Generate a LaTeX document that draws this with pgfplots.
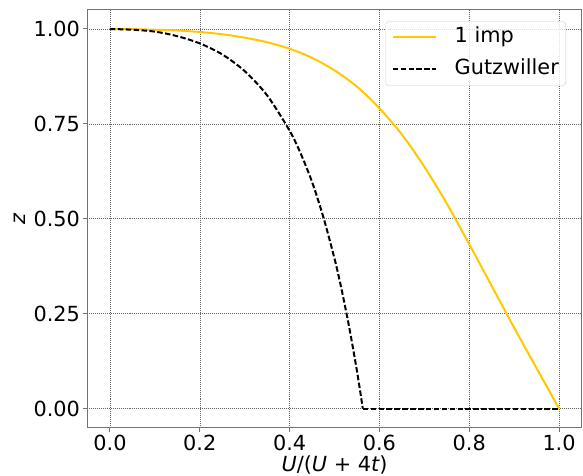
\documentclass[border=0pt]{standalone}
\usepackage{fontspec}
\setmainfont{DejaVu Sans}
\usepackage{pgfplots}
\pgfplotsset{compat=1.18}
\definecolor{imp}{RGB}{255,200,0}

\begin{document}
\begin{tikzpicture}[font=\fontsize{20.8}{25}\selectfont]
\begin{axis}[name=ax, scale only axis, width=494pt, height=417.5pt,
  xmin=-0.05, xmax=1.05, ymin=-0.05, ymax=1.05,
  xtick={0,0.2,0.4,0.6,0.8,1.0}, ytick={0,0.25,0.5,0.75,1},
  /pgf/number format/assume math mode=true,
  xticklabel style={/pgf/number format/.cd, fixed, fixed zerofill, precision=1},
  yticklabel style={/pgf/number format/.cd, fixed, fixed zerofill, precision=2},
  tick align=outside, major tick length=4pt,
  tick style={black!55, line width=1pt},
  xtick pos=bottom, ytick pos=left,
  axis line style={black!55, line width=1pt},
  grid=major,
  major grid style={black!60, line width=0.5pt, dash pattern=on 1pt off 1pt},
  xlabel={{\itshape U}/({\itshape U} + 4{\itshape t})},
  ylabel={\itshape z},
  ylabel style={at={(axis description cs:0,0.5)}, anchor=center, yshift=68pt},
  xlabel style={at={(axis description cs:0.5,0)}, anchor=base, yshift=-44pt},
  legend cell align=left,
  legend image code/.code={\draw[#1] (0pt,0pt) -- (43pt,0pt);},
  legend style={at={(axis description cs:1,1)}, anchor=north east, xshift=-15.5pt, yshift=-11.3pt,
    draw=black!20, rounded corners=3pt, fill=white, fill opacity=0.8, text opacity=1,
    inner xsep=6pt, inner ysep=5pt, row sep=10pt,
    nodes={inner sep=1pt, text height=15.5pt, text depth=4.5pt},
    /tikz/every odd column/.append style={column sep=17pt}},
]
% 1 impurity
\addplot[imp, line width=2pt, smooth] coordinates {
  (0.00,1.000) (0.05,0.9995) (0.10,0.998) (0.15,0.996) (0.20,0.992) (0.25,0.986)
  (0.30,0.977) (0.35,0.965) (0.40,0.948) (0.45,0.924) (0.50,0.891) (0.55,0.848)
  (0.60,0.791) (0.65,0.722) (0.70,0.637) (0.75,0.540) (0.80,0.433) (0.85,0.323)
  (0.90,0.213) (0.95,0.106) (1.00,0.000)
};
\addlegendentry{1 imp}
% Gutzwiller
\addplot[black, line width=2pt, dash pattern=on 5.5pt off 2.4pt, smooth] coordinates {
  (0.00,1.000) (0.05,0.998) (0.10,0.993) (0.15,0.981) (0.20,0.962) (0.25,0.933)
  (0.30,0.889) (0.35,0.825) (0.40,0.732) (0.425,0.671) (0.45,0.597) (0.475,0.505)
  (0.50,0.395) (0.515,0.318) (0.53,0.231) (0.54,0.167) (0.55,0.099) (0.558,0.039)
  (0.563,0.000)
};
\addlegendentry{Gutzwiller}
\addplot[black, line width=2pt, dash pattern=on 5.5pt off 2.4pt, forget plot] coordinates {
  (0.563,0.000) (0.60,0.000) (0.80,0.000) (1.00,0.000)
};
\end{axis}
\pgfresetboundingbox
\path[use as bounding box] ([xshift=-87.5pt,yshift=-48.5pt]ax.south west) rectangle ([xshift=1.5pt,yshift=10pt]ax.north east);
\end{tikzpicture}
\end{document}
